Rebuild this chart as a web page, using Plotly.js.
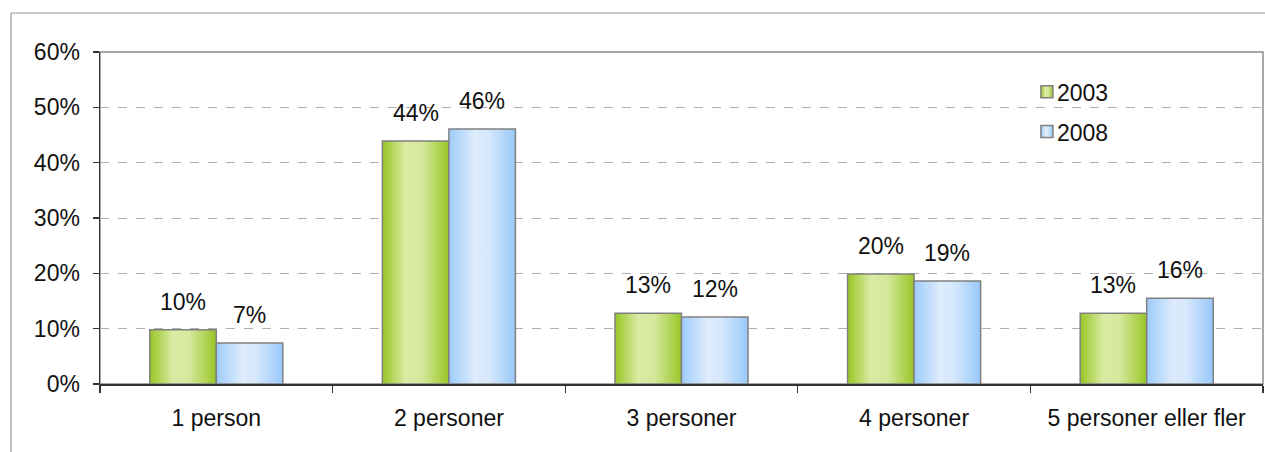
<!DOCTYPE html>
<html>
<head>
<meta charset="utf-8">
<script src="https://cdn.plot.ly/plotly-3.0.1.min.js"></script>
<style>
  html, body { margin: 0; padding: 0; background: #fff; }
  #chart { width: 1265px; height: 452px; }
</style>
</head>
<body>
<div id="chart"></div>
<script>
const categories = ["1 person", "2 personer", "3 personer", "4 personer", "5 personer eller fler"];
const seriesNames = ["2003", "2008"];
const values2003 = [9.8, 43.9, 12.8, 19.9, 12.8];
const values2008 = [7.4, 46.1, 12.1, 18.6, 15.5];
const labels2003 = ["10%", "44%", "13%", "20%", "13%"];
const labels2008 = ["7%", "46%", "12%", "19%", "16%"];
const yTickVals = [0, 10, 20, 30, 40, 50, 60];
const yTickText = ["0%", "10%", "20%", "30%", "40%", "50%", "60%"];

const FONT = "Liberation Sans, Arial, Helvetica, sans-serif";
const FS = 23;

const traces = [
  {
    type: "bar", name: seriesNames[0], x: categories, y: values2003,
    marker: { color: "rgb(190,222,110)", line: { color: "rgb(128,128,128)", width: 1.5 } },
    legendgroup: "a", hoverinfo: "none"
  },
  {
    type: "bar", name: seriesNames[1], x: categories, y: values2008,
    marker: { color: "rgb(190,220,250)", line: { color: "rgb(128,128,128)", width: 1.5 } },
    legendgroup: "b", hoverinfo: "none"
  }
];

const off = 0.143;
const annotations = [];
categories.forEach((c, i) => {
  annotations.push({ x: i - off, y: values2003[i], xref: "x", yref: "y", text: labels2003[i],
    showarrow: false, yanchor: "bottom", yshift: 13, font: { family: FONT, size: FS, color: "#111" } });
  annotations.push({ x: i + off, y: values2008[i], xref: "x", yref: "y", text: labels2008[i],
    showarrow: false, yanchor: "bottom", yshift: 13, font: { family: FONT, size: FS, color: "#111" } });
});

const layout = {
  width: 1265, height: 452,
  margin: { l: 100, r: 2, t: 52, b: 68, pad: 0 },
  paper_bgcolor: "#fff", plot_bgcolor: "#fff",
  font: { family: FONT, size: FS, color: "#111" },
  barmode: "group", bargap: 0.428, bargroupgap: 0,
  showlegend: true,
  legend: {
    x: 0.797, y: 0.945, xanchor: "left", yanchor: "top",
    font: { family: FONT, size: FS, color: "#111" },
    bgcolor: "rgba(0,0,0,0)", traceorder: "grouped", tracegroupgap: 7,
    itemwidth: 30
  },
  xaxis: {
    type: "category", range: [-0.5, 4.5], fixedrange: true,
    showline: true, linecolor: "#333", linewidth: 1.5,
    ticks: "outside", ticklen: 7, tickcolor: "#333", tickwidth: 1.2,
    tickson: "boundaries", showgrid: false, ticklabelstandoff: 13,
    tickfont: { family: FONT, size: FS, color: "#111" }
  },
  yaxis: {
    range: [0, 60], fixedrange: true,
    tickvals: yTickVals, ticktext: yTickText,
    showline: true, linecolor: "#333", linewidth: 1.5,
    ticks: "outside", ticklen: 6, tickcolor: "#333", tickwidth: 1.2,
    showgrid: true, gridcolor: "#b0b0b0", griddash: "dash", gridwidth: 1,
    zeroline: false, ticklabelstandoff: 8,
    tickfont: { family: FONT, size: FS, color: "#111" }
  },
  shapes: [
    { type: "rect", xref: "paper", yref: "paper", x0: 0, x1: 1, y0: 0, y1: 1,
      line: { color: "#8a8a8a", width: 1.5 }, layer: "below" },
    { type: "line", xref: "paper", yref: "paper", x0: -0.0765, x1: -0.0765, y0: -0.3, y1: 1.1175,
      line: { color: "#9a9a9a", width: 1.2 } },
    { type: "line", xref: "paper", yref: "paper", x0: -0.0765, x1: 1.1, y0: 1.1175, y1: 1.1175,
      line: { color: "#9a9a9a", width: 1.2 } }
  ],
  annotations: annotations
};

function addGradients(gd) {
  const svg = gd.querySelector("svg.main-svg");
  const ns = "http://www.w3.org/2000/svg";
  let defs = svg.querySelector("defs");
  if (!defs) { defs = document.createElementNS(ns, "defs"); svg.insertBefore(defs, svg.firstChild); }
  const grads = {
    gGreen: [[0, "rgb(150,198,35)"], [0.35, "rgb(218,235,165)"], [0.6, "rgb(212,232,155)"], [1, "rgb(152,198,38)"]],
    gBlue: [[0, "rgb(158,204,250)"], [0.4, "rgb(222,236,252)"], [0.6, "rgb(214,232,252)"], [1, "rgb(152,200,250)"]]
  };
  Object.keys(grads).forEach(id => {
    const lg = document.createElementNS(ns, "linearGradient");
    lg.setAttribute("id", id);
    lg.setAttribute("x1", "0"); lg.setAttribute("y1", "0");
    lg.setAttribute("x2", "1"); lg.setAttribute("y2", "0");
    grads[id].forEach(s => {
      const st = document.createElementNS(ns, "stop");
      st.setAttribute("offset", s[0]);
      st.setAttribute("stop-color", s[1]);
      lg.appendChild(st);
    });
    defs.appendChild(lg);
  });
  const ids = ["gGreen", "gBlue"];
  gd.querySelectorAll(".barlayer .trace").forEach((t, i) => {
    t.querySelectorAll("path").forEach(p => { p.style.fill = "url(#" + ids[i] + ")"; p.style.fillOpacity = 1; });
  });
  gd.querySelectorAll(".legend .traces").forEach((t, i) => {
    t.querySelectorAll(".legendpoints path").forEach(p => { p.style.fill = "url(#" + ids[i] + ")"; });
    t.querySelectorAll("text.legendtext").forEach(tx => { tx.setAttribute("x", 30); });
  });
}

Plotly.newPlot("chart", traces, layout, { staticPlot: true, displayModeBar: false })
  .then(gd => addGradients(gd));
</script>
</body>
</html>
